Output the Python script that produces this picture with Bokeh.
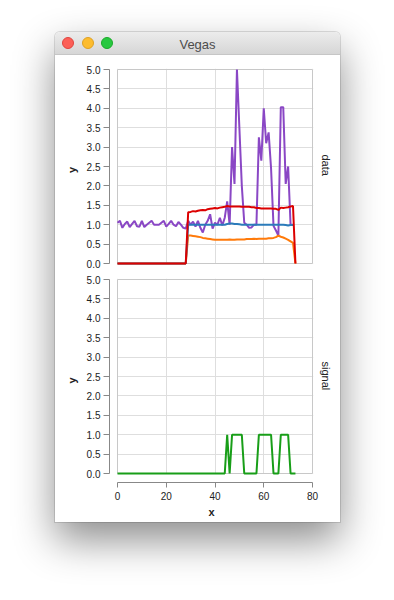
from bokeh.plotting import figure
from bokeh.models import Range1d, FixedTicker, PrintfTickFormatter, Title, Div
from bokeh.layouts import column
from bokeh.embed import file_html
from bokeh.resources import INLINE

# ---------------- data ----------------
x_purple = list(range(0, 73))
purple = [1.05, 1.10, 0.92, 1.02, 1.08, 0.94, 1.02, 1.10, 0.96, 0.95,
          1.10, 0.94, 1.00, 1.05, 1.10, 1.00, 1.00, 1.00, 1.05, 1.10,
          0.95, 1.02, 1.10, 1.00, 0.96, 1.07, 1.00, 0.92, 0.90, 1.10,
          1.00, 1.08, 0.95, 1.10, 0.92, 0.80, 1.00, 1.10, 1.27, 0.90,
          1.05, 1.00, 1.18, 0.98, 1.18, 1.60, 1.00, 3.00, 2.05, 5.00,
          3.50, 2.00, 1.05, 1.00, 0.92, 0.93, 1.00, 1.00, 3.25, 2.65,
          4.00, 3.10, 3.38, 2.45, 0.97, 0.85, 0.72, 4.03, 4.03, 2.05,
          2.50, 1.00, 1.00]

x_blue = list(range(0, 73))
blue = [0, 0, 0, 0, 0, 0, 0, 0, 0, 0,
        0, 0, 0, 0, 0, 0, 0, 0, 0, 0,
        0, 0, 0, 0, 0, 0, 0, 0, 0, 1.00,
        1.00, 1.00, 1.00, 1.00, 1.00, 1.00, 1.00, 1.00, 1.00, 1.00,
        1.00, 1.00, 1.00, 1.00, 1.00, 1.02, 1.03, 1.03, 1.02, 1.02,
        1.01, 1.00, 1.00, 1.00, 1.00, 1.00, 1.00, 1.00, 1.00, 1.00,
        1.00, 1.00, 1.00, 1.00, 1.00, 1.00, 1.00, 1.00, 1.00, 0.99,
        0.98, 0.99, 0.99]

x_band = list(range(0, 74))
orange = [0, 0, 0, 0, 0, 0, 0, 0, 0, 0,
          0, 0, 0, 0, 0, 0, 0, 0, 0, 0,
          0, 0, 0, 0, 0, 0, 0, 0, 0, 0.72,
          0.72, 0.71, 0.70, 0.69, 0.68, 0.66, 0.65, 0.64, 0.63, 0.62,
          0.61, 0.61, 0.61, 0.61, 0.61, 0.61, 0.62, 0.61, 0.61, 0.62,
          0.62, 0.62, 0.62, 0.63, 0.63, 0.63, 0.64, 0.63, 0.64, 0.64,
          0.64, 0.64, 0.65, 0.65, 0.66, 0.68, 0.72, 0.69, 0.67, 0.64,
          0.61, 0.57, 0.53, 0]
red = [0, 0, 0, 0, 0, 0, 0, 0, 0, 0,
       0, 0, 0, 0, 0, 0, 0, 0, 0, 0,
       0, 0, 0, 0, 0, 0, 0, 0, 0, 1.32,
       1.33, 1.35, 1.34, 1.36, 1.37, 1.38, 1.37, 1.40, 1.41, 1.42,
       1.43, 1.42, 1.44, 1.45, 1.46, 1.48, 1.47, 1.47, 1.47, 1.47,
       1.47, 1.46, 1.46, 1.46, 1.46, 1.45, 1.45, 1.43, 1.43, 1.42,
       1.42, 1.42, 1.42, 1.42, 1.41, 1.41, 1.38, 1.44, 1.43, 1.44,
       1.45, 1.47, 1.48, 0]

x_signal = list(range(0, 74))
signal = [0, 0, 0, 0, 0, 0, 0, 0, 0, 0,
          0, 0, 0, 0, 0, 0, 0, 0, 0, 0,
          0, 0, 0, 0, 0, 0, 0, 0, 0, 0,
          0, 0, 0, 0, 0, 0, 0, 0, 0, 0,
          0, 0, 0, 0, 0, 1, 0, 1, 1, 1,
          1, 1, 0, 0, 0, 0, 0, 0, 1, 1,
          1, 1, 1, 1, 0, 0, 0, 1, 1, 1,
          1, 0, 0, 0]

x_ticks = [0, 20, 40, 60, 80]
y_ticks = [0.0, 0.5, 1.0, 1.5, 2.0, 2.5, 3.0, 3.5, 4.0, 4.5, 5.0]
row_labels = ["data", "signal"]

# ---------------- styling / geometry ----------------
FONT = "Liberation Sans"
GRID = "#dedede"
BORDER = "#c8c8c8"
AXIS = "#888888"
LABEL = "#222222"

W = 285
X_PX = 2.4375      # px per x unit
Y_PX = 38.8        # px per y unit
FRAME_W = 204
XR = 80 + 1 / X_PX
XL = XR - FRAME_W / X_PX
YT = 5 + 1 / Y_PX


def make_panel(height, top, bottom, frame_h, show_x, row_label, label_offset):
    yl = YT - frame_h / Y_PX
    p = figure(width=W, height=height, x_range=Range1d(XL, XR), y_range=Range1d(yl, YT),
               output_backend="svg", toolbar_location=None,
               x_axis_location="below" if show_x else None,
               min_border_left=54, min_border_right=27,
               min_border_top=top, min_border_bottom=bottom)
    p.outline_line_color = None
    p.background_fill_color = "white"
    p.border_fill_color = "white"

    p.xgrid.ticker = FixedTicker(ticks=x_ticks)
    p.ygrid.ticker = FixedTicker(ticks=y_ticks)
    for g in (p.xgrid, p.ygrid):
        g.grid_line_color = GRID
        g.grid_line_width = 1

    ya = p.yaxis[0]
    ya.ticker = FixedTicker(ticks=y_ticks)
    ya.formatter = PrintfTickFormatter(format="%.1f")
    ya.bounds = (0, 5)
    ya.axis_label = "y"
    ya.axis_label_standoff = 6
    ya.major_label_standoff = 3
    ya.major_tick_out = 6
    ya.major_tick_in = 0
    axes = [ya]
    if show_x:
        xa = p.xaxis[0]
        xa.ticker = FixedTicker(ticks=x_ticks)
        xa.bounds = (0, 80)
        xa.axis_label = "x"
        xa.axis_label_standoff = 3
        xa.major_label_standoff = 4
        xa.major_tick_out = 5
        xa.major_tick_in = 0
        axes.append(xa)
    for a in axes:
        a.axis_line_color = AXIS
        a.major_tick_line_color = AXIS
        a.minor_tick_line_color = None
        a.major_label_text_font = FONT
        a.major_label_text_font_size = "10px"
        a.major_label_text_color = LABEL
        a.axis_label_text_font = FONT
        a.axis_label_text_font_size = "11px"
        a.axis_label_text_font_style = "bold"
        a.axis_label_text_color = LABEL

    # row header on the right
    p.add_layout(Title(text=row_label, align="left", standoff=12, offset=label_offset,
                       text_font=FONT, text_font_size="11px",
                       text_font_style="normal", text_color=LABEL), "right")

    # mask the strips outside the 0..80 x 0..5 cell, then draw the cell border
    p.quad(left=[XL, XL, 80, XL], right=[0, XR, XR, XR],
           bottom=[yl, yl, yl, 5], top=[YT, 0, YT, YT],
           fill_color="white", line_color=None)
    p.quad(left=[0], right=[80], bottom=[0], top=[5],
           fill_color=None, line_color=BORDER, line_width=1)
    return p


p1 = make_panel(216, 13, 0, 203, False, row_labels[0], 86)
p1.line(x_purple, purple, line_color="#8a47c5", line_width=2)
p1.line(x_band, orange, line_color="#ff7a0a", line_width=2)
p1.line(x_blue, blue, line_color="#2b7bba", line_width=2)
p1.line(x_band, red, line_color="#dc0000", line_width=2)

p2 = make_panel(251, 7, 40, 204, True, row_labels[1], 83)
p2.line(x_signal, signal, line_color="#189e18", line_width=2)

dot = ("position:absolute;top:5px;width:12px;height:12px;border-radius:50%;"
       "box-sizing:border-box;")
title_html = (
    '<div style="position:relative;width:285px;height:23px;box-sizing:border-box;'
    'border-bottom:1px solid #c6c6c6;background:linear-gradient(#ececec,#d6d6d6);'
    'border-radius:5px 5px 0 0;font-family:\'Liberation Sans\',sans-serif;">'
    f'<span style="{dot}left:7px;background:#fc5f57;border:1px solid #e0443e"></span>'
    f'<span style="{dot}left:27px;background:#fdbc2e;border:1px solid #dea123"></span>'
    f'<span style="{dot}left:46px;background:#28c840;border:1px solid #1aab29"></span>'
    '<div style="position:absolute;left:0;right:0;top:4px;text-align:center;'
    'font-size:13px;color:#4d4d4d;">Vegas</div></div>'
)
title_bar = Div(text=title_html, width=W, height=23, margin=0)

layout = column(title_bar, p1, p2, margin=(32, 0, 0, 55),
                styles={"background-color": "white",
                        "border-radius": "5px 5px 0 0",
                        "box-shadow": "0 18px 40px rgba(0,0,0,0.45), 0 0 0 1px rgba(0,0,0,0.12)"})

open("out.html", "w").write(file_html(layout, INLINE))
